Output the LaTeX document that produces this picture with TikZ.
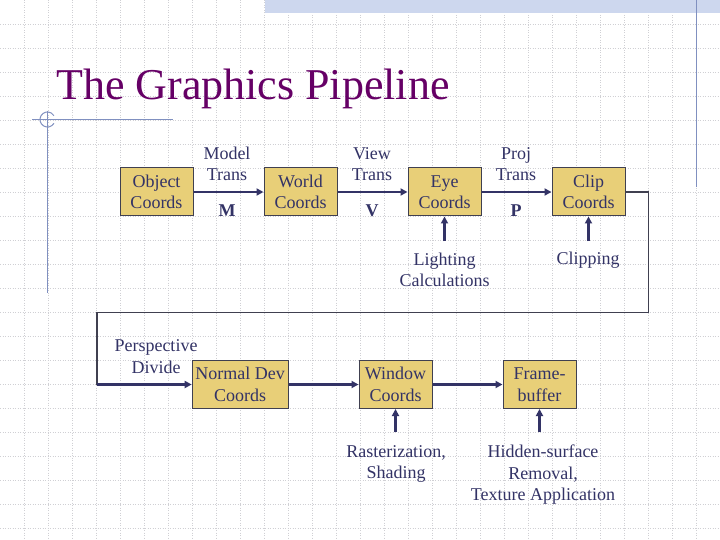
\documentclass[tikz,border=0pt]{standalone}
\usepackage{fontspec}
\setmainfont{Liberation Serif}
\usetikzlibrary{arrows.meta}
\definecolor{ink}{RGB}{51,51,102}
\definecolor{boxfill}{RGB}{232,207,120}
\definecolor{boxline}{RGB}{64,64,80}
\definecolor{titlec}{RGB}{102,0,102}
\definecolor{accent}{RGB}{128,144,192}
\definecolor{band}{RGB}{205,215,238}
\definecolor{gridc}{RGB}{208,208,212}
\newcommand\lab{\fontsize{18}{21.5}\selectfont}
\tikzset{
  stagebox/.style={draw=boxline, fill=boxfill, line width=1pt, minimum width=73pt,
    minimum height=48pt, inner sep=0pt, align=center, font=\lab, text=ink},
  lbl/.style={inner sep=0pt, align=center, font=\lab, text=ink},
  flow/.style={draw=ink, line width=2.2pt, -{Triangle[length=7pt,width=7pt]}},
  loopline/.style={draw=boxline, line width=1.2pt},
}
\begin{document}
\begin{tikzpicture}[x=1pt,y=-1pt]
\useasboundingbox (0,0) rectangle (720,540);
\fill[white] (0,0) rectangle (720,540);
% grid
\foreach \k in {1,...,29} \draw[gridc, line width=0.8pt, dash pattern=on 1pt off 1.5pt] (24*\k,0) -- (24*\k,540);
\foreach \k in {1,...,22} \draw[gridc, line width=0.8pt, dash pattern=on 1pt off 1.5pt] (0,24*\k) -- (720,24*\k);
% top band and accent lines
\fill[band] (265,0) rectangle (720,13);
\draw[accent, line width=1.3pt] (696.5,0) -- (696.5,187);
\draw[accent, line width=1.3pt] (47.5,111) -- (47.5,293);
\draw[accent, line width=1.3pt] (32,119.5) -- (173,119.5);
\draw[accent, line width=1pt] (47.5,119.5) ++(30:7.5) arc[start angle=30, end angle=330, radius=7.5];
% title
\node[anchor=base west, inner sep=0pt, text=titlec, font=\fontsize{44}{44}\selectfont] (title) at (56,100) {The Graphics Pipeline};
% stage boxes
\node[stagebox] (obj) at (156.5,192) {Object\\Coords};
\node[stagebox] (world) at (300.5,192) {World\\Coords};
\node[stagebox] (eye) at (444.5,192) {Eye\\Coords};
\node[stagebox] (clip) at (588.5,192) {Clip\\Coords};
\node[stagebox, minimum width=96pt] (ndc) at (240.2,384.5) {Normal Dev\\Coords};
\node[stagebox] (win) at (395.5,384.5) {Window\\Coords};
\node[stagebox] (fb) at (539.5,384.5) {Frame-\\buffer};
% transform labels
\node[lbl] (mt) at (227,164) {Model\\Trans};
\node[lbl, font=\lab\bfseries] (m) at (227,211) {M};
\node[lbl] (vt) at (372,164) {View\\Trans};
\node[lbl, font=\lab\bfseries] (v) at (372,211) {V};
\node[lbl] (pt) at (516,164) {Proj\\Trans};
\node[lbl, font=\lab\bfseries] (p) at (516,211) {P};
% side labels
\node[lbl] (light) at (444.5,270) {Lighting\\Calculations};
\node[lbl] (clipping) at (588,260) {Clipping};
\node[lbl] (persp) at (156,356.5) {Perspective\\Divide};
\node[lbl] (rast) at (396,464) {Rasterization,\\Shading};
\node[lbl] (hid) at (543,475) {Hidden-surface\\Removal,\\Texture Application};
% main flow
\draw[flow] (obj) -- (world);
\draw[flow] (world) -- (eye);
\draw[flow] (eye) -- (clip);
\draw[flow] (ndc) -- (win);
\draw[flow] (win) -- (fb);
% feeding arrows
\coordinate (lt) at (444.5,241);
\coordinate (ct) at (588.5,241);
\coordinate (rt) at (395.5,432);
\coordinate (ht) at (539.5,432);
\draw[flow] (lt) -- (eye);
\draw[flow] (ct) -- (clip);
\draw[flow] (rt) -- (win);
\draw[flow] (ht) -- (fb);
% loop back
\coordinate (r1) at (648.5,312.5);
\coordinate (l1) at (97,312.5);
\coordinate (l2) at (97,384.5);
\draw[loopline] (clip.east) -| (r1) -- (l1) -- (l2);
\draw[flow] (l2) -- (ndc.west);
\end{tikzpicture}
\end{document}
